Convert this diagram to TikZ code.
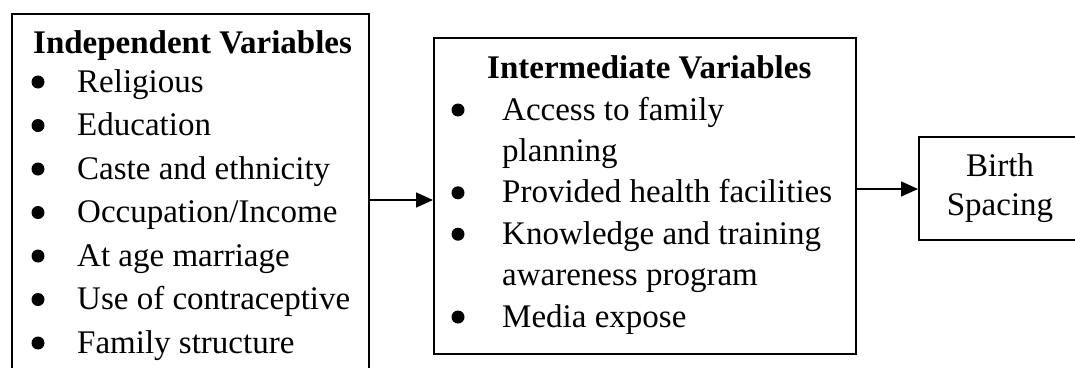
\documentclass[tikz,border=0pt]{standalone}
\usepackage{fontspec}
\setmainfont{Liberation Serif}
\usetikzlibrary{arrows.meta}
\begin{document}
\begin{tikzpicture}[x=1pt,y=-1pt,
  box/.style={draw, line width=1.6pt, rectangle, inner sep=0pt, anchor=north west},
  txt/.style={anchor=base west, inner sep=0pt, font=\fontsize{33}{40}\selectfont},
  ctxt/.style={anchor=base, inner sep=0pt, font=\fontsize{33}{40}\selectfont},
  head/.style={txt, font=\fontsize{33}{40}\selectfont\bfseries},
  arr/.style={line width=1.6pt, -{Triangle[length=17pt,width=15pt]}},
  dot/.style={circle, fill, inner sep=0pt, minimum size=13pt}]
\clip (0,0) rectangle (1075,367);
\fill[white] (0,0) rectangle (1075,367);

% boxes
\node[box, minimum width=357pt, minimum height=400pt] (indep) at (11,13) {};
\node[box, minimum width=422pt, minimum height=316pt] (inter) at (433,37) {};
\node[box, minimum width=164pt, minimum height=103pt] (birth) at (918,136) {};

% independent variables
\node[head] (h1) at (33,53) {Independent Variables};
\foreach \t [count=\i] in {Religious, Education, Caste and ethnicity,
    Occupation/Income, At age marriage, Use of contraceptive, Family structure}{
  \pgfmathsetmacro{\yy}{82+43.5*(\i-1)}
  \node[dot] (b1\i) at (38,\yy) {};
  \node[txt] (t1\i) at (77,\yy+10) {\t};
}

% intermediate variables
\node[head] (h2) at (487,78) {Intermediate Variables};
\node[dot] (b21) at (458,110) {};
\node[txt] (t21) at (502,120) {Access to family};
\node[txt] (t22) at (502,161.4) {planning};
\node[dot] (b23) at (458,192.8) {};
\node[txt] (t23) at (502,202.8) {Provided health facilities};
\node[dot] (b24) at (458,234.2) {};
\node[txt] (t24) at (502,244.2) {Knowledge and training};
\node[txt] (t25) at (502,285.6) {awareness program};
\node[dot] (b26) at (458,317) {};
\node[txt] (t26) at (502,327) {Media expose};

% outcome
\node[ctxt] (t31) at (1000,176) {Birth};
\node[ctxt] (t32) at (1000,215) {Spacing};

% connectors
\draw[arr] (indep.east |- 0,200) -- (inter.west |- 0,200);
\draw[arr] (inter.east |- 0,189) -- (birth.west |- 0,189);
\end{tikzpicture}
\end{document}
